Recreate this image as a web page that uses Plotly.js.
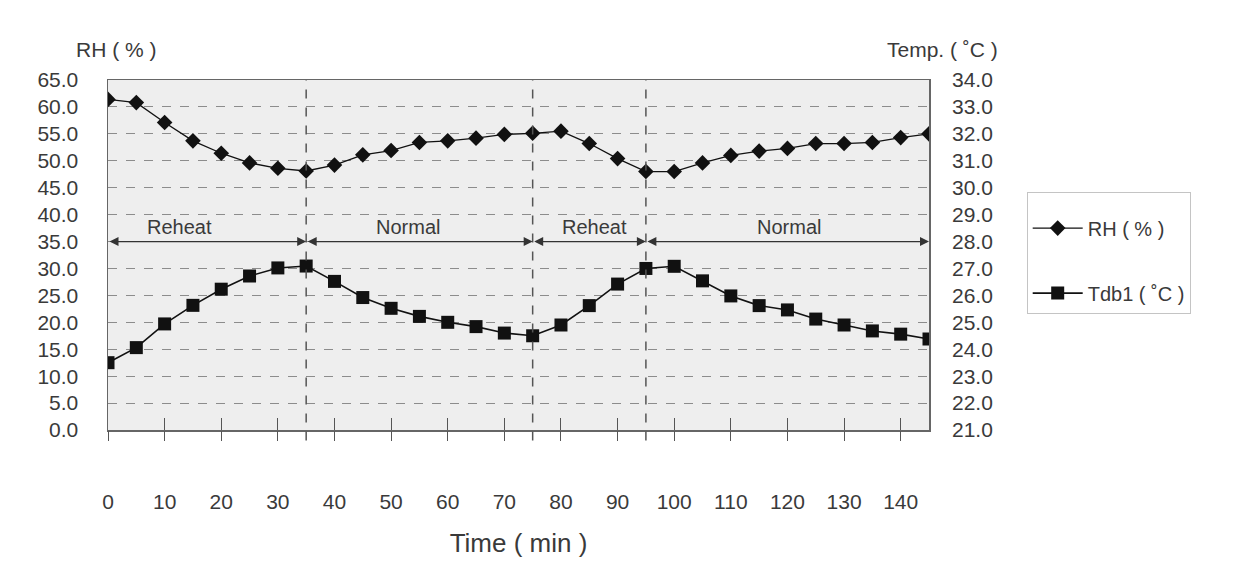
<!DOCTYPE html>
<html>
<head>
<meta charset="utf-8">
<script src="https://cdn.plot.ly/plotly-3.0.1.min.js"></script>
<style>html,body{margin:0;padding:0;background:#fff;}#chart{width:1241px;height:577px;}</style>
</head>
<body>
<div id="chart"></div>
<script>
// ---- data ----
const timeMin = [0,5,10,15,20,25,30,35,40,45,50,55,60,65,70,75,80,85,90,95,100,105,110,115,120,125,130,135,140,145];
const rhPct = [61.4,60.8,57.1,53.7,51.4,49.6,48.6,48.1,49.2,51.1,51.9,53.4,53.7,54.2,54.9,55.1,55.5,53.2,50.4,48.0,48.0,49.6,51.0,51.8,52.3,53.2,53.2,53.4,54.3,55.0];
const tdb1C = [23.5,24.06,24.94,25.63,26.23,26.72,27.02,27.09,26.52,25.92,25.52,25.22,25.0,24.84,24.6,24.5,24.9,25.62,26.42,27.0,27.08,26.54,25.98,25.62,25.46,25.12,24.9,24.68,24.56,24.38];
const xTickVals = [0,10,20,30,40,50,60,70,80,90,100,110,120,130,140];
const phaseStarts = [0,35,75,95];
const phaseEnds = [35,75,95,145];
const phaseLabels = ['Reheat','Normal','Reheat','Normal'];
const phaseLabelTimes = [12.7,53,86,120.3];
const phaseBounds = [35,75,95];
const phaseArrowLevel = 35;

const FONT = 'Liberation Sans, Arial, sans-serif';
const TXT = '#3a3a3a';

const traces = [
  {x: timeMin, y: rhPct, name: 'RH ( % )', type: 'scatter', mode: 'lines+markers', legendgroup: 'rh',
   line: {color: '#111', width: 1.3}, marker: {symbol: 'diamond', size: 12, color: '#111'},
   xaxis: 'x', yaxis: 'y'},
  {x: timeMin, y: tdb1C, name: 'Tdb1 ( ˚C )', type: 'scatter', mode: 'lines+markers', legendgroup: 'tdb',
   line: {color: '#111', width: 1.6}, marker: {symbol: 'square', size: 13, color: '#111'},
   xaxis: 'x', yaxis: 'y2'},
  {x: [], y: [], xaxis: 'x2', yaxis: 'y', showlegend: false, hoverinfo: 'skip', type: 'scatter', mode: 'lines'}
];

const annotations = [];
for (let i = 0; i < phaseStarts.length; i++) {
  annotations.push({
    x: phaseEnds[i], y: phaseArrowLevel, xref: 'x', yref: 'y',
    ax: phaseStarts[i], ay: phaseArrowLevel, axref: 'x', ayref: 'y',
    text: '', showarrow: true, arrowside: 'end+start',
    arrowhead: 2, startarrowhead: 2, arrowsize: 1.5, startarrowsize: 1.5,
    arrowwidth: 1.2, arrowcolor: '#333', standoff: 0, startstandoff: 0
  });
  annotations.push({
    x: phaseLabelTimes[i], y: phaseArrowLevel, xref: 'x', yref: 'y',
    text: phaseLabels[i], showarrow: false, yanchor: 'bottom', yshift: 2,
    font: {family: FONT, size: 20, color: TXT}
  });
}
annotations.push({text: 'RH ( % )', xref: 'paper', yref: 'paper', x: -0.041, y: 1.087,
  xanchor: 'left', yanchor: 'middle', showarrow: false, font: {family: FONT, size: 21, color: TXT}});
annotations.push({text: 'Temp. ( ˚C )', xref: 'paper', yref: 'paper', x: 1.0865, y: 1.087,
  xanchor: 'right', yanchor: 'middle', showarrow: false, font: {family: FONT, size: 21, color: TXT}});

const shapes = phaseBounds.map(b => ({
  type: 'line', xref: 'x', yref: 'paper', x0: b, x1: b, y0: -0.03, y1: 1,
  line: {color: '#555', width: 1.5, dash: 'dash'}, layer: 'above'
}));

const layout = {
  width: 1241, height: 577,
  margin: {l: 108, r: 312, t: 80, b: 147},
  paper_bgcolor: '#ffffff', plot_bgcolor: '#eeeeee',
  font: {family: FONT, color: TXT, size: 21},
  showlegend: true,
  legend: {x: 1.119, y: 0.68, xanchor: 'left', yanchor: 'top',
    bgcolor: '#ffffff', bordercolor: '#c4c4c4', borderwidth: 1,
    font: {family: FONT, size: 20, color: TXT}, tracegroupgap: 36, traceorder: 'grouped',
    title: {text: ' ', font: {family: FONT, size: 12}},
    itemwidth: 50},
  xaxis: {range: [0, 145], tickmode: 'array', tickvals: xTickVals,
    ticks: 'inside', ticklen: 12, tickcolor: '#555', tickwidth: 1,
    showline: true, mirror: true, linecolor: '#666', linewidth: 1.5,
    showgrid: false, zeroline: false, ticklabelstandoff: 52,
    tickfont: {family: FONT, size: 21, color: TXT},
    title: {text: 'Time ( min )', font: {family: FONT, size: 26, color: TXT}, standoff: 22}},
  xaxis2: {range: [0, 145], overlaying: 'x', anchor: 'y', side: 'bottom', tickmode: 'array', tickvals: xTickVals,
    ticks: 'outside', ticklen: 10, tickcolor: '#555', tickwidth: 1,
    showticklabels: false, showgrid: false, showline: false, zeroline: false},
  yaxis: {range: [0, 65], dtick: 5, tick0: 0, tickformat: '.1f', ticks: '',
    showgrid: true, gridcolor: '#8c8c8c', griddash: 'dash', gridwidth: 1,
    showline: true, mirror: true, linecolor: '#666', linewidth: 1.5, zeroline: false,
    ticklabelstandoff: 24, tickfont: {family: FONT, size: 21, color: TXT}},
  yaxis2: {range: [21, 34], dtick: 1, tick0: 21, tickformat: '.1f', overlaying: 'y', side: 'right',
    ticks: '', showgrid: false, zeroline: false, showline: false,
    ticklabelstandoff: 22, tickfont: {family: FONT, size: 21, color: TXT}},
  annotations: annotations,
  shapes: shapes
};

Plotly.newPlot('chart', traces, layout, {displayModeBar: false, staticPlot: true});
</script>
</body>
</html>
